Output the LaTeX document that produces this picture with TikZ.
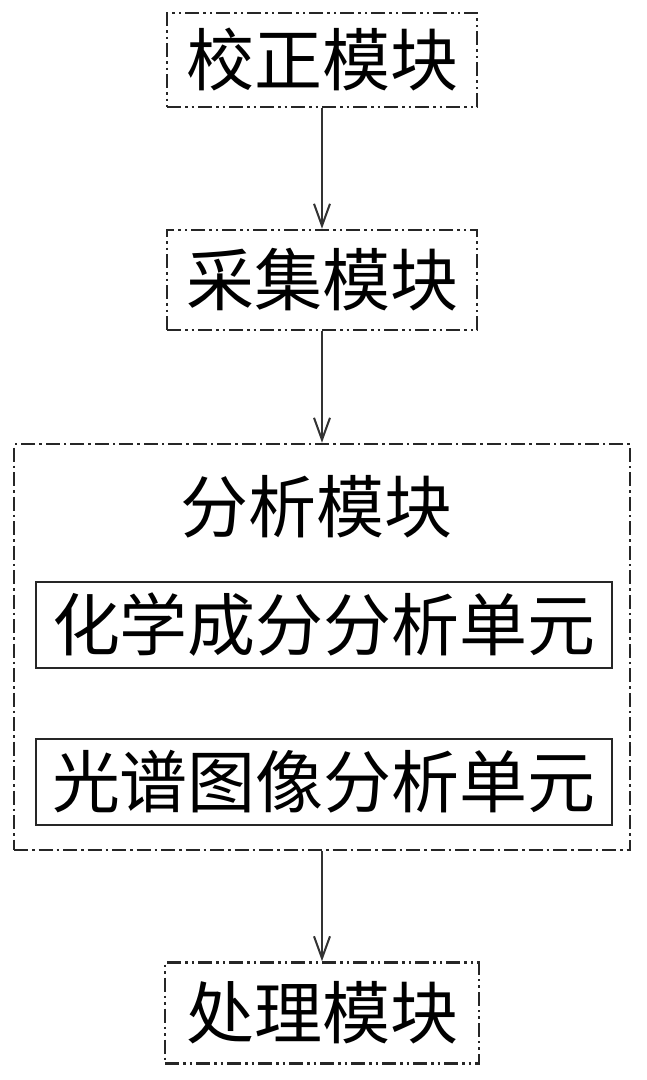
\documentclass[tikz,border=0pt]{standalone}
\usepackage{fontspec}
\newfontfamily\cjk{Noto Sans CJK SC}
\usetikzlibrary{arrows.meta}
\begin{document}
\begin{tikzpicture}[x=1pt,y=-1pt,
  dashdotdot/.style={draw=black!85,line width=2.6pt,dash pattern=on 14pt off 4pt on 2.5pt off 4pt on 2.5pt off 4pt},
  dashdotbig/.style={draw=black!85,line width=2.6pt,dash pattern=on 14pt off 4pt on 2.5pt off 4pt},
  modbox/.style={dashdotdot,minimum width=310pt,minimum height=94pt,inner sep=0pt,font=\cjk\fontsize{68}{80}\selectfont},
  unitbox/.style={draw=black!85,line width=2.6pt,minimum width=576pt,minimum height=86pt,inner sep=0pt,font=\cjk\fontsize{68}{80}\selectfont},
  conn/.style={draw=black!80,line width=2pt,-{Straight Barb[length=22pt,width=16pt,line width=2pt]}}
]
\useasboundingbox (0,0) rectangle (647,1080);
\node[modbox] (jz) at (322,60) {校正模块};
\node[modbox,minimum height=100pt] (cj) at (322,280) {采集模块};
\node[dashdotbig,minimum width=616pt,minimum height=406pt,inner sep=0pt] (fx) at (322,647) {};
\node[font=\cjk\fontsize{68}{80}\selectfont,inner sep=0pt] (fxt) at (316,507) {分析模块};
\node[unitbox] (u1) at (324,625) {化学成分分析单元};
\node[unitbox] (u2) at (324,782) {光谱图像分析单元};
\node[modbox,minimum width=314pt,minimum height=101pt] (cl) at (322,1013) {处理模块};
\draw[conn] (jz.south) -- (cj.north);
\draw[conn] (cj.south) -- (fx.north);
\draw[conn] (fx.south) -- (cl.north);
\end{tikzpicture}
\end{document}
